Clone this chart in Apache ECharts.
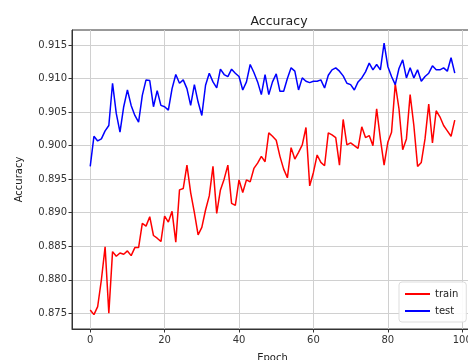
<!DOCTYPE html>
<html>
<head>
<meta charset="utf-8">
<script src="https://cdn.jsdelivr.net/npm/echarts@6/dist/echarts.min.js"></script>
<style>html,body{margin:0;padding:0;background:#fff;}#c{width:468px;height:360px;}</style>
</head>
<body>
<div id="c"></div>
<script>
const epochs = Array.from({length: 99}, (_, i) => i);
const train = [
0.8755,0.8748,0.8760,0.8800,0.8849,0.8750,0.8842,0.8835,0.8840,0.8838,
0.8843,0.8836,0.8848,0.8848,0.8884,0.8880,0.8894,0.8866,0.8862,0.8857,
0.8895,0.8886,0.8902,0.8856,0.8934,0.8936,0.8971,0.8930,0.8900,0.8867,
0.8878,0.8904,0.8925,0.8969,0.8899,0.8934,0.8950,0.8971,0.8914,0.8911,
0.8949,0.8930,0.8949,0.8946,0.8966,0.8974,0.8984,0.8976,0.9019,0.9014,
0.9008,0.8984,0.8965,0.8952,0.8997,0.8980,0.8990,0.9001,0.9027,0.8940,
0.8960,0.8986,0.8975,0.8970,0.9019,0.9016,0.9012,0.8971,0.9039,0.9001,
0.9004,0.9000,0.8996,0.9028,0.9012,0.9015,0.9000,0.9055,0.9010,0.8971,
0.9005,0.9020,0.9092,0.9055,0.8994,0.9010,0.9076,0.9030,0.8969,0.8975,
0.9010,0.9062,0.9004,0.9052,0.9043,0.9030,0.9022,0.9014,0.9038
];
const test = [
0.8969,0.9014,0.9007,0.9010,0.9022,0.9030,0.9093,0.9048,0.9020,0.9058,
0.9083,0.9060,0.9045,0.9035,0.9075,0.9098,0.9097,0.9058,0.9082,0.9060,
0.9058,0.9053,0.9085,0.9106,0.9093,0.9098,0.9085,0.9060,0.9091,0.9065,
0.9045,0.9090,0.9108,0.9095,0.9086,0.9114,0.9106,0.9103,0.9114,0.9108,
0.9103,0.9083,0.9095,0.9121,0.9109,0.9095,0.9076,0.9106,0.9076,0.9095,
0.9107,0.9081,0.9081,0.9100,0.9116,0.9111,0.9083,0.9101,0.9096,0.9094,
0.9096,0.9096,0.9098,0.9086,0.9105,0.9113,0.9116,0.9111,0.9104,0.9093,
0.9091,0.9083,0.9095,0.9101,0.9110,0.9123,0.9113,0.9121,0.9113,0.9153,
0.9118,0.9103,0.9091,0.9115,0.9128,0.9101,0.9116,0.9101,0.9113,0.9096,
0.9103,0.9108,0.9119,0.9113,0.9113,0.9116,0.9111,0.9131,0.9108
];
const xTicks = [0, 20, 40, 60, 80, 100];
const yTicks = [0.875, 0.880, 0.885, 0.890, 0.895, 0.900, 0.905, 0.910, 0.915];

const chart = echarts.init(document.getElementById('c'), null, {renderer: 'canvas'});
const font = 'DejaVu Sans';
chart.setOption({
  animation: false,
  backgroundColor: '#fff',
  title: {
    text: 'Accuracy', left: 274, top: 10, textAlign: 'center',
    textStyle: {fontFamily: font, fontSize: 12.5, fontWeight: 'normal', color: '#222'}
  },
  grid: {left: 72, top: 30, right: -5, bottom: 31, containLabel: false, outerBoundsMode: 'none',
    show: true, borderColor: '#333', borderWidth: 1, backgroundColor: 'transparent'},
  legend: {
    data: ['train', 'test'], orient: 'vertical', left: 399, top: 282,
    backgroundColor: 'rgba(255,255,255,0.9)', borderColor: '#ddd', borderWidth: 1, borderRadius: 3,
    padding: [7, 8, 6, 6], itemGap: 7, itemWidth: 25, itemHeight: 2, icon: 'rect',
    textStyle: {fontFamily: font, fontSize: 10, color: '#222'}
  },
  xAxis: {
    type: 'value', min: -4.9, max: 102.9,
    name: 'Epoch', nameLocation: 'middle', nameGap: 24,
    nameTextStyle: {fontFamily: font, fontSize: 10, color: '#222'},
    axisLine: {show: true, onZero: false, lineStyle: {color: '#333'}},
    axisTick: {show: true, customValues: xTicks, length: 3.5, lineStyle: {color: '#333'}},
    axisLabel: {customValues: xTicks, fontFamily: font, fontSize: 10, color: '#333', margin: 6},
    splitLine: {show: true, lineStyle: {color: '#d0d0d0', width: 1}}
  },
  yAxis: {
    type: 'value', min: 0.87266, max: 0.91724,
    name: 'Accuracy', nameLocation: 'middle', nameGap: 48, nameRotate: 90,
    nameTextStyle: {fontFamily: font, fontSize: 10, color: '#222'},
    axisLine: {show: true, onZero: false, lineStyle: {color: '#333'}},
    axisTick: {show: true, customValues: yTicks, length: 3.5, lineStyle: {color: '#333'}},
    axisLabel: {customValues: yTicks, fontFamily: font, fontSize: 10, color: '#333', margin: 5,
      formatter: v => v.toFixed(3)},
    splitLine: {show: true, lineStyle: {color: '#d0d0d0', width: 1}}
  },
  series: [
    {name: 'train', type: 'line', data: epochs.map((e, i) => [e, train[i]]), showSymbol: false,
     lineStyle: {color: '#ff0000', width: 1.5}, itemStyle: {color: '#ff0000'}},
    {name: 'test', type: 'line', data: epochs.map((e, i) => [e, test[i]]), showSymbol: false,
     lineStyle: {color: '#0000ff', width: 1.5}, itemStyle: {color: '#0000ff'}}
  ]
});
</script>
</body>
</html>
